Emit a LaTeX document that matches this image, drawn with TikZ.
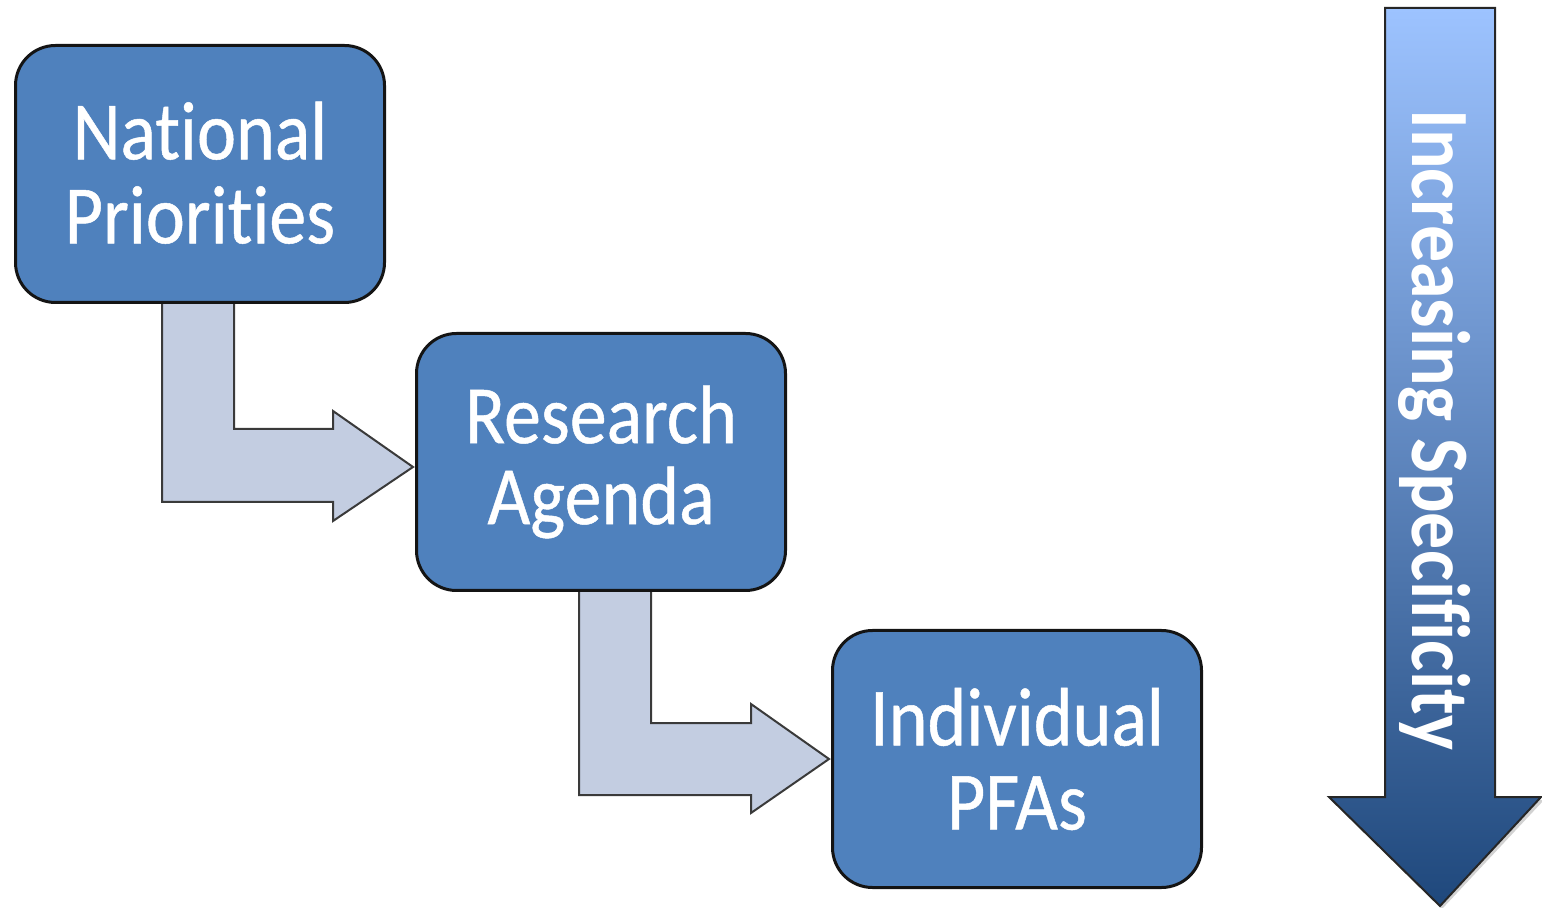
\documentclass[tikz,border=0pt]{standalone}
\usepackage{fontspec}
\setmainfont{Carlito}[Ligatures=NoCommon]
\newfontfamily\boxfont{Carlito}[Ligatures=NoCommon, FakeBold=0.6]
\definecolor{boxblue}{HTML}{4F81BD}
\definecolor{arrowfill}{HTML}{C3CDE1}
\definecolor{arrowedge}{HTML}{3A3A3A}
\definecolor{bigtop}{HTML}{9DC3FF}
\definecolor{bigbot}{HTML}{1F487C}
\newcommand{\tallline}[1]{\scalebox{1}[1.12]{#1}}
\begin{document}
\begin{tikzpicture}[x=0.5pt,y=-0.5pt,
  boxnode/.style={draw=black!92, line width=1.5pt, fill=boxblue, rounded corners=20pt,
    minimum width=184.5pt, minimum height=128.5pt, inner sep=0pt, text=white, align=center,
    font=\boxfont\fontsize{37}{40.5}\selectfont},
  bentarrow/.style={draw=arrowedge, line width=1pt, fill=arrowfill, line join=miter},
  bigarrow/.style={draw=black!85, line width=1pt, top color=bigtop, bottom color=bigbot}]
\useasboundingbox (0,0) rectangle (1542,908);
% bent block arrows
\draw[bentarrow] (162,300) -- (234,300) -- (234,429) -- (333,429) -- (333,411) -- (413,467)
  -- (333,521) -- (333,502) -- (162,502) -- cycle;
\draw[bentarrow] (579,588) -- (651,588) -- (651,723) -- (751,723) -- (751,704) -- (829,759)
  -- (751,813) -- (751,795) -- (579,795) -- cycle;
% boxes
\node[boxnode] (np) at (200,174) {\raisebox{3pt}{\tallline{National}}\\\raisebox{1.5pt}{\tallline{Priorities}}};
\node[boxnode] (ra) at (601,462) {\tallline{Research}\\\tallline{Agenda}};
\node[boxnode] (ip) at (1017,759) {\raisebox{1.5pt}{\tallline{Individual}}\\\tallline{PFAs}};
% big arrow with light shadow
\fill[gray!35] (1331,800) -- (1442,909) -- (1544,800) -- cycle;
\draw[bigarrow] (1385,8) -- (1495,8) -- (1495,797) -- (1541,797) -- (1440,906) -- (1329,797)
  -- (1385,797) -- cycle;
\node[rotate=-90, anchor=base, text=white, inner sep=0pt,
  font=\bfseries\fontsize{37}{40}\selectfont] (spec) at (1412,430) {\tallline{Increasing Specificity}};
\end{tikzpicture}
\end{document}
